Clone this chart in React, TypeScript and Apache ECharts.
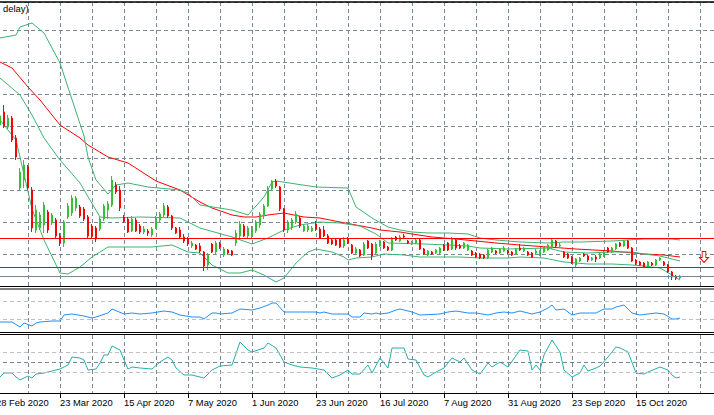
import { useEffect, useRef } from 'react';
import * as echarts from 'echarts';

// daily candles, index 0 = 28 Feb 2020 (price units are arbitrary, axis scale is hidden)
const openP = [
  186, 161, 174, 159, 168, 148, 98, 106, 119, 96,
  56, 58, 61, 74, 63, 66, 50, 43, 69, 73,
  78, 79, 77, 69, 60, 58, 57, 67, 76, 81,
  101, 96, 69, 67, 55, 66, 60, 54, 55, 51,
  58, 66, 71, 79, 70, 58, 56, 49, 47, 40,
  41, 40, 34, 21, 42, 34, 42, 31, 36, 35,
  43, 50, 60, 50, 50, 55, 61, 70, 80, 97,
  105, 99, 77, 56, 59, 64, 68, 55, 56, 55,
  62, 57, 56, 50, 46, 46, 47, 40, 47, 41,
  33, 36, 31, 45, 42, 33, 40, 44, 39, 36,
  49, 45, 50, 45, 42, 43, 46, 37, 31, 34,
  33, 33, 41, 43, 37, 46, 40, 38, 36, 35,
  33, 32, 31, 28, 34, 35, 33, 35, 35, 34,
  32, 38, 35, 34, 33, 33, 31, 34, 36, 38,
  45, 40, 34, 32, 29, 21, 25, 32, 30, 26,
  29, 28, 30, 38, 34, 37, 43, 40, 45, 38,
  26, 24, 23, 19, 23, 21, 26, 24, 21, 14,
  10, 8,
];
const closeP = [
  174, 170, 160, 168, 146, 129, 114, 121, 98, 58,
  76, 71, 81, 56, 71, 50, 43, 64, 80, 88,
  88, 70, 67, 50, 50, 47, 67, 80, 82, 106,
  94, 78, 65, 54, 67, 55, 54, 57, 53, 57,
  68, 72, 80, 70, 58, 53, 49, 45, 42, 43,
  37, 35, 20, 31, 34, 43, 39, 37, 33, 31,
  53, 62, 50, 58, 57, 64, 72, 80, 96, 105,
  100, 77, 56, 64, 66, 72, 60, 60, 60, 58,
  57, 48, 50, 43, 42, 41, 39, 46, 43, 33,
  37, 30, 42, 38, 30, 42, 45, 38, 36, 48,
  46, 49, 49, 43, 44, 46, 37, 32, 35, 32,
  36, 38, 36, 36, 47, 38, 38, 43, 41, 31,
  29, 28, 28, 36, 38, 33, 37, 38, 33, 31,
  37, 36, 38, 31, 29, 35, 35, 39, 41, 46,
  40, 41, 29, 28, 23, 27, 28, 30, 26, 28,
  27, 32, 34, 34, 38, 42, 40, 45, 38, 25,
  23, 21, 19, 24, 21, 26, 28, 21, 14, 9,
  8, 10,
];
const lowP = [
  171, 159, 158, 157, 144, 126, 96, 98, 96, 54,
  53, 56, 53, 53, 61, 48, 40, 39, 67, 70,
  75, 68, 65, 48, 48, 44, 55, 65, 67, 79,
  92, 75, 63, 53, 54, 54, 52, 52, 50, 49,
  57, 64, 69, 68, 56, 52, 47, 43, 40, 38,
  36, 33, 15, 16, 33, 32, 37, 29, 32, 30,
  40, 48, 49, 48, 48, 53, 58, 67, 79, 96,
  98, 75, 54, 53, 56, 62, 58, 54, 54, 54,
  55, 47, 49, 42, 41, 40, 38, 38, 42, 32,
  32, 29, 30, 37, 26, 32, 39, 37, 35, 35,
  45, 44, 48, 42, 41, 42, 36, 31, 30, 31,
  32, 32, 35, 35, 36, 36, 37, 37, 35, 30,
  28, 27, 27, 27, 33, 32, 32, 34, 32, 30,
  31, 35, 34, 30, 28, 32, 30, 33, 35, 37,
  39, 39, 28, 27, 22, 19, 24, 29, 24, 25,
  24, 27, 29, 33, 33, 36, 39, 39, 37, 24,
  21, 20, 18, 18, 20, 20, 25, 20, 13, 6,
  6, 7,
];
const highP = [
  191, 174, 181, 171, 170, 151, 118, 126, 121, 99,
  81, 74, 84, 76, 73, 68, 53, 66, 83, 91,
  90, 81, 79, 71, 62, 60, 69, 82, 85, 110,
  104, 100, 71, 69, 70, 68, 62, 60, 57, 59,
  70, 74, 83, 81, 71, 59, 59, 52, 49, 45,
  42, 43, 35, 33, 43, 45, 44, 39, 37, 36,
  56, 65, 62, 60, 60, 66, 74, 82, 100, 106,
  107, 100, 78, 66, 68, 75, 70, 62, 62, 60,
  65, 59, 60, 52, 47, 47, 48, 49, 49, 42,
  39, 37, 44, 46, 43, 44, 46, 45, 40, 49,
  50, 51, 52, 46, 45, 48, 47, 38, 36, 35,
  37, 39, 42, 44, 49, 48, 42, 44, 42, 36,
  34, 33, 32, 37, 39, 36, 38, 40, 36, 35,
  38, 42, 39, 35, 34, 37, 36, 40, 42, 48,
  46, 43, 35, 33, 30, 28, 29, 33, 31, 29,
  31, 33, 35, 39, 39, 43, 44, 46, 46, 39,
  27, 25, 24, 25, 24, 27, 29, 25, 22, 15,
  11, 11,
];

// indicator lines as [bar index, value]
const maRed = [
  [1, 224], [4, 218], [8, 199], [11, 186], [16, 161], [21, 148], [23, 141], [28, 129], [33, 123],
  [40, 105], [46, 96], [51, 84], [54, 78], [59, 71], [62, 69], [65, 69], [68, 71], [72, 73],
  [77, 69], [81, 68], [86, 64], [90, 61], [94, 58], [96, 56], [101, 54], [104, 52], [109, 49],
  [115, 47], [120, 45], [125, 43], [131, 41], [138, 39], [145, 37], [154, 35], [162, 32],
  [167, 31], [171, 29],
];
const bandUpper = [
  [1, 248], [5, 251], [6, 259], [9, 263], [12, 253], [16, 223], [22, 150], [23, 129], [25, 106],
  [28, 92], [30, 101], [33, 103], [38, 99], [46, 96], [48, 93], [51, 81], [59, 76], [63, 71],
  [67, 89], [69, 104], [70, 105], [80, 99], [88, 98], [90, 79], [94, 68], [98, 59], [101, 56],
  [104, 54], [108, 53], [113, 53], [118, 52], [121, 48], [125, 46], [131, 44], [138, 43],
  [142, 44], [146, 44], [154, 45], [158, 46], [162, 47], [169, 47], [171, 46],
];
const bandMiddle = [
  [1, 208], [6, 191], [9, 171], [12, 148], [16, 126], [21, 103], [26, 69], [29, 68], [36, 69],
  [46, 68], [51, 58], [59, 49], [64, 42], [68, 48], [72, 56], [76, 61], [81, 64], [86, 63],
  [91, 60], [95, 52], [98, 43], [107, 42], [113, 41], [118, 40], [121, 38], [128, 37],
  [138, 38], [142, 34], [148, 33], [154, 34], [159, 34], [162, 32], [166, 30], [171, 25],
];
const bandLower = [
  [1, 166], [5, 146], [9, 77], [12, 46], [16, 13], [18, 12], [21, 19], [24, 29], [28, 39],
  [34, 39], [39, 39], [44, 41], [48, 34], [51, 33], [54, 21], [58, 13], [61, 13], [64, 16],
  [67, 11], [70, 4], [72, 8], [75, 23], [78, 34], [80, 37], [84, 34], [87, 29], [88, 26],
  [90, 28], [94, 29], [97, 32], [102, 31], [106, 29], [116, 29], [121, 28], [128, 28],
  [131, 29], [137, 28], [142, 24], [148, 22], [154, 22], [159, 21], [162, 20], [166, 18],
  [169, 11], [171, 6],
];
const blueOsc = [
  [1, 9], [4, 9], [6, 4], [7, 8], [9, 5], [10, 8], [11, 9], [14, 10], [16, 10], [17, 16],
  [19, 17], [22, 15], [24, 13], [25, 14], [28, 18], [29, 22], [32, 17], [34, 18], [36, 17],
  [39, 18], [42, 20], [44, 19], [46, 16], [49, 14], [51, 14], [52, 12], [54, 18], [55, 18],
  [56, 17], [59, 18], [61, 22], [64, 21], [66, 23], [68, 26], [69, 28], [70, 28], [72, 19],
  [76, 19], [80, 19], [81, 18], [82, 19], [84, 17], [88, 17], [89, 14], [91, 14], [92, 18],
  [94, 17], [95, 18], [96, 17], [98, 18], [100, 21], [101, 22], [104, 19], [106, 16],
  [111, 17], [113, 19], [115, 20], [118, 18], [120, 18], [123, 16], [125, 18], [127, 19],
  [129, 18], [131, 20], [134, 17], [136, 19], [138, 23], [139, 26], [140, 21], [142, 22],
  [144, 16], [146, 18], [149, 18], [150, 18], [152, 22], [154, 22], [155, 24], [157, 26],
  [159, 18], [161, 16], [165, 18], [167, 17], [169, 12], [170, 12], [171, 13],
];
const tealOsc = [
  [1, 16], [2, 20], [4, 20], [5, 16], [6, 13], [8, 17], [9, 15], [10, 19], [12, 20], [14, 22],
  [16, 24], [18, 28], [19, 36], [21, 35], [22, 33], [23, 23], [25, 24], [26, 30], [27, 38],
  [28, 38], [29, 47], [31, 43], [32, 33], [33, 24], [34, 26], [36, 25], [39, 24], [41, 31],
  [43, 36], [44, 33], [45, 25], [47, 18], [49, 18], [51, 16], [52, 15], [54, 23], [56, 27],
  [59, 28], [61, 51], [63, 43], [64, 41], [67, 45], [68, 50], [70, 45], [72, 31], [74, 28],
  [76, 26], [79, 25], [82, 23], [84, 15], [86, 18], [88, 23], [89, 19], [91, 19], [93, 28],
  [94, 20], [96, 35], [98, 25], [99, 45], [102, 45], [103, 34], [105, 33], [107, 18],
  [108, 16], [110, 21], [112, 25], [114, 35], [116, 31], [117, 35], [119, 23], [121, 19],
  [123, 30], [124, 26], [126, 31], [128, 26], [131, 43], [133, 42], [134, 23], [135, 28],
  [136, 23], [137, 38], [139, 53], [141, 41], [142, 23], [144, 16], [146, 20], [147, 28],
  [148, 22], [150, 25], [151, 27], [153, 36], [155, 46], [156, 45], [158, 41], [160, 20],
  [162, 19], [163, 21], [166, 26], [168, 23], [169, 18], [170, 15], [171, 16],
];

const tickIndex = [0, 16, 32, 48, 64, 80, 96, 112, 128, 144, 160];
const tickLabels = [
  '28 Feb 2020', '23 Mar 2020', '15 Apr 2020', '7 May 2020', '1 Jun 2020', '23 Jun 2020',
  '16 Jul 2020', '7 Aug 2020', '31 Aug 2020', '23 Sep 2020', '15 Oct 2020',
];

const redLevels = [48, 19];
const greyLevel = 10;
const oscLevels = [30, 12];
const tealLevels = [41, 31, 21];
const sellArrow = [177, 29];

const GRID = '#778899';
const SILVER = '#c0c0c0';
const BULL = '#33c233';
const BEAR = '#ff0000';
const BAND = '#3cb371';
const FONT = "'Liberation Sans', Arial, sans-serif";

export default function App() {
  const ref = useRef<HTMLDivElement>(null);

  useEffect(() => {
    document.body.style.margin = '0';
    if (!ref.current) return;
    const chart = echarts.init(ref.current, null, { renderer: 'svg' });

    const candles = openP.map((o, i) => [i, o, closeP[i], lowP[i], highP[i]]);
    const dash = { color: GRID, width: 1, type: [4, 3] };

    // vertical grid lines every 8 bars, shared by the three panes
    const gridX = (gridIndex: number) => ({
      type: 'value', gridIndex, min: 0, max: 179.5, interval: 8,
      axisLine: { show: false }, axisTick: { show: false }, axisLabel: { show: false },
      splitLine: { show: true, lineStyle: dash },
    });
    const plainY = (gridIndex: number, max: number) => ({
      type: 'value', gridIndex, min: 0, max,
      axisLine: { show: false }, axisTick: { show: false }, axisLabel: { show: false },
      splitLine: { show: false },
    });
    const flatLine = (name: string, data: number[][], color: string, x: number, y: number) => ({
      name, type: 'line', xAxisIndex: x, yAxisIndex: y, data, showSymbol: false, symbol: 'none',
      lineStyle: { color, width: 1 }, silent: true, z: 3,
    });
    const levelLines = (levels: number[], colors: string[], solid: boolean) => ({
      silent: true, symbol: ['none', 'none'], label: { show: false }, animation: false,
      data: levels.map((v, k) => ({
        yAxis: v,
        lineStyle: { color: colors[k], width: 1, type: solid ? 'solid' : [4, 3] },
      })),
    });

    chart.setOption({
      animation: false,
      backgroundColor: '#ffffff',
      grid: [
        { left: -4, right: 0, top: 2, height: 284, outerBoundsMode: 'none' },
        { left: -4, right: 0, top: 290, height: 41, outerBoundsMode: 'none' },
        { left: -4, right: 0, top: 335, height: 58, outerBoundsMode: 'none' },
      ],
      xAxis: [
        gridX(0),
        gridX(1),
        { ...gridX(2), position: 'top' },
        {
          type: 'value', gridIndex: 2, position: 'bottom', min: 0, max: 179.5, interval: 16,
          axisLine: { show: true, lineStyle: { color: '#000000', width: 1 } },
          axisTick: { show: true, length: 5, customValues: tickIndex, lineStyle: { color: '#000000' } },
          axisLabel: {
            show: true, customValues: tickIndex, showMinLabel: true, showMaxLabel: true,
            hideOverlap: false, align: 'left', margin: 5,
            color: '#000000', fontFamily: FONT, fontSize: 9.4,
            formatter: (v: number) => {
              const k = tickIndex.indexOf(v);
              return k >= 0 ? tickLabels[k] : '';
            },
          },
          splitLine: { show: false },
        },
      ],
      yAxis: [
        {
          type: 'value', gridIndex: 0, min: 0, max: 284, interval: 32,
          axisLine: { show: false }, axisTick: { show: false }, axisLabel: { show: false },
          splitLine: { show: true, lineStyle: dash },
        },
        plainY(1, 41),
        plainY(2, 58),
      ],
      series: [
        {
          name: 'price', type: 'candlestick', xAxisIndex: 0, yAxisIndex: 0,
          encode: { x: 0, y: [1, 2, 3, 4] },
          data: candles, barWidth: 2, z: 4,
          itemStyle: { color: BULL, color0: BEAR, borderColor: BULL, borderColor0: BEAR, borderWidth: 1 },
          markLine: levelLines([...redLevels, greyLevel], [BEAR, BEAR, GRID], true),
          markPoint: {
            silent: true, animation: false,
            symbol: 'path://M3,0 L7,0 L7,6 L10,6 L5,11 L0,6 L3,6 Z',
            symbolSize: [9, 11],
            label: { show: false },
            itemStyle: { color: '#ffffff', borderColor: BEAR, borderWidth: 1 },
            data: [{ coord: sellArrow }],
          },
        },
        flatLine('ma', maRed, BEAR, 0, 0),
        flatLine('upper', bandUpper, BAND, 0, 0),
        flatLine('middle', bandMiddle, BAND, 0, 0),
        flatLine('lower', bandLower, BAND, 0, 0),
        {
          ...flatLine('osc', blueOsc, '#1e90ff', 1, 1),
          markLine: levelLines(oscLevels, [SILVER, SILVER], false),
        },
        {
          ...flatLine('osc2', tealOsc, '#20b2aa', 2, 2),
          markLine: levelLines(tealLevels, [SILVER, GRID, SILVER], false),
        },
      ],
      graphic: [
        { type: 'line', shape: { x1: 0, y1: 2, x2: 714, y2: 2 }, style: { stroke: '#000', lineWidth: 1.5 }, z: 10 },
        { type: 'line', shape: { x1: 0, y1: 286.5, x2: 714, y2: 286.5 }, style: { stroke: '#000', lineWidth: 1 }, z: 10 },
        { type: 'line', shape: { x1: 0, y1: 289, x2: 714, y2: 289 }, style: { stroke: '#000', lineWidth: 1 }, z: 10 },
        { type: 'line', shape: { x1: 0, y1: 332.5, x2: 714, y2: 332.5 }, style: { stroke: '#000', lineWidth: 1 }, z: 10 },
        { type: 'line', shape: { x1: 0, y1: 334.5, x2: 714, y2: 334.5 }, style: { stroke: '#000', lineWidth: 1 }, z: 10 },
        {
          type: 'text', left: 3, top: 4, z: 10,
          style: { text: 'delay)', fill: '#000', font: `9.4px ${FONT}` },
        },
      ],
    });

    return () => chart.dispose();
  }, []);

  return <div ref={ref} style={{ width: 714, height: 415 }} />;
}
